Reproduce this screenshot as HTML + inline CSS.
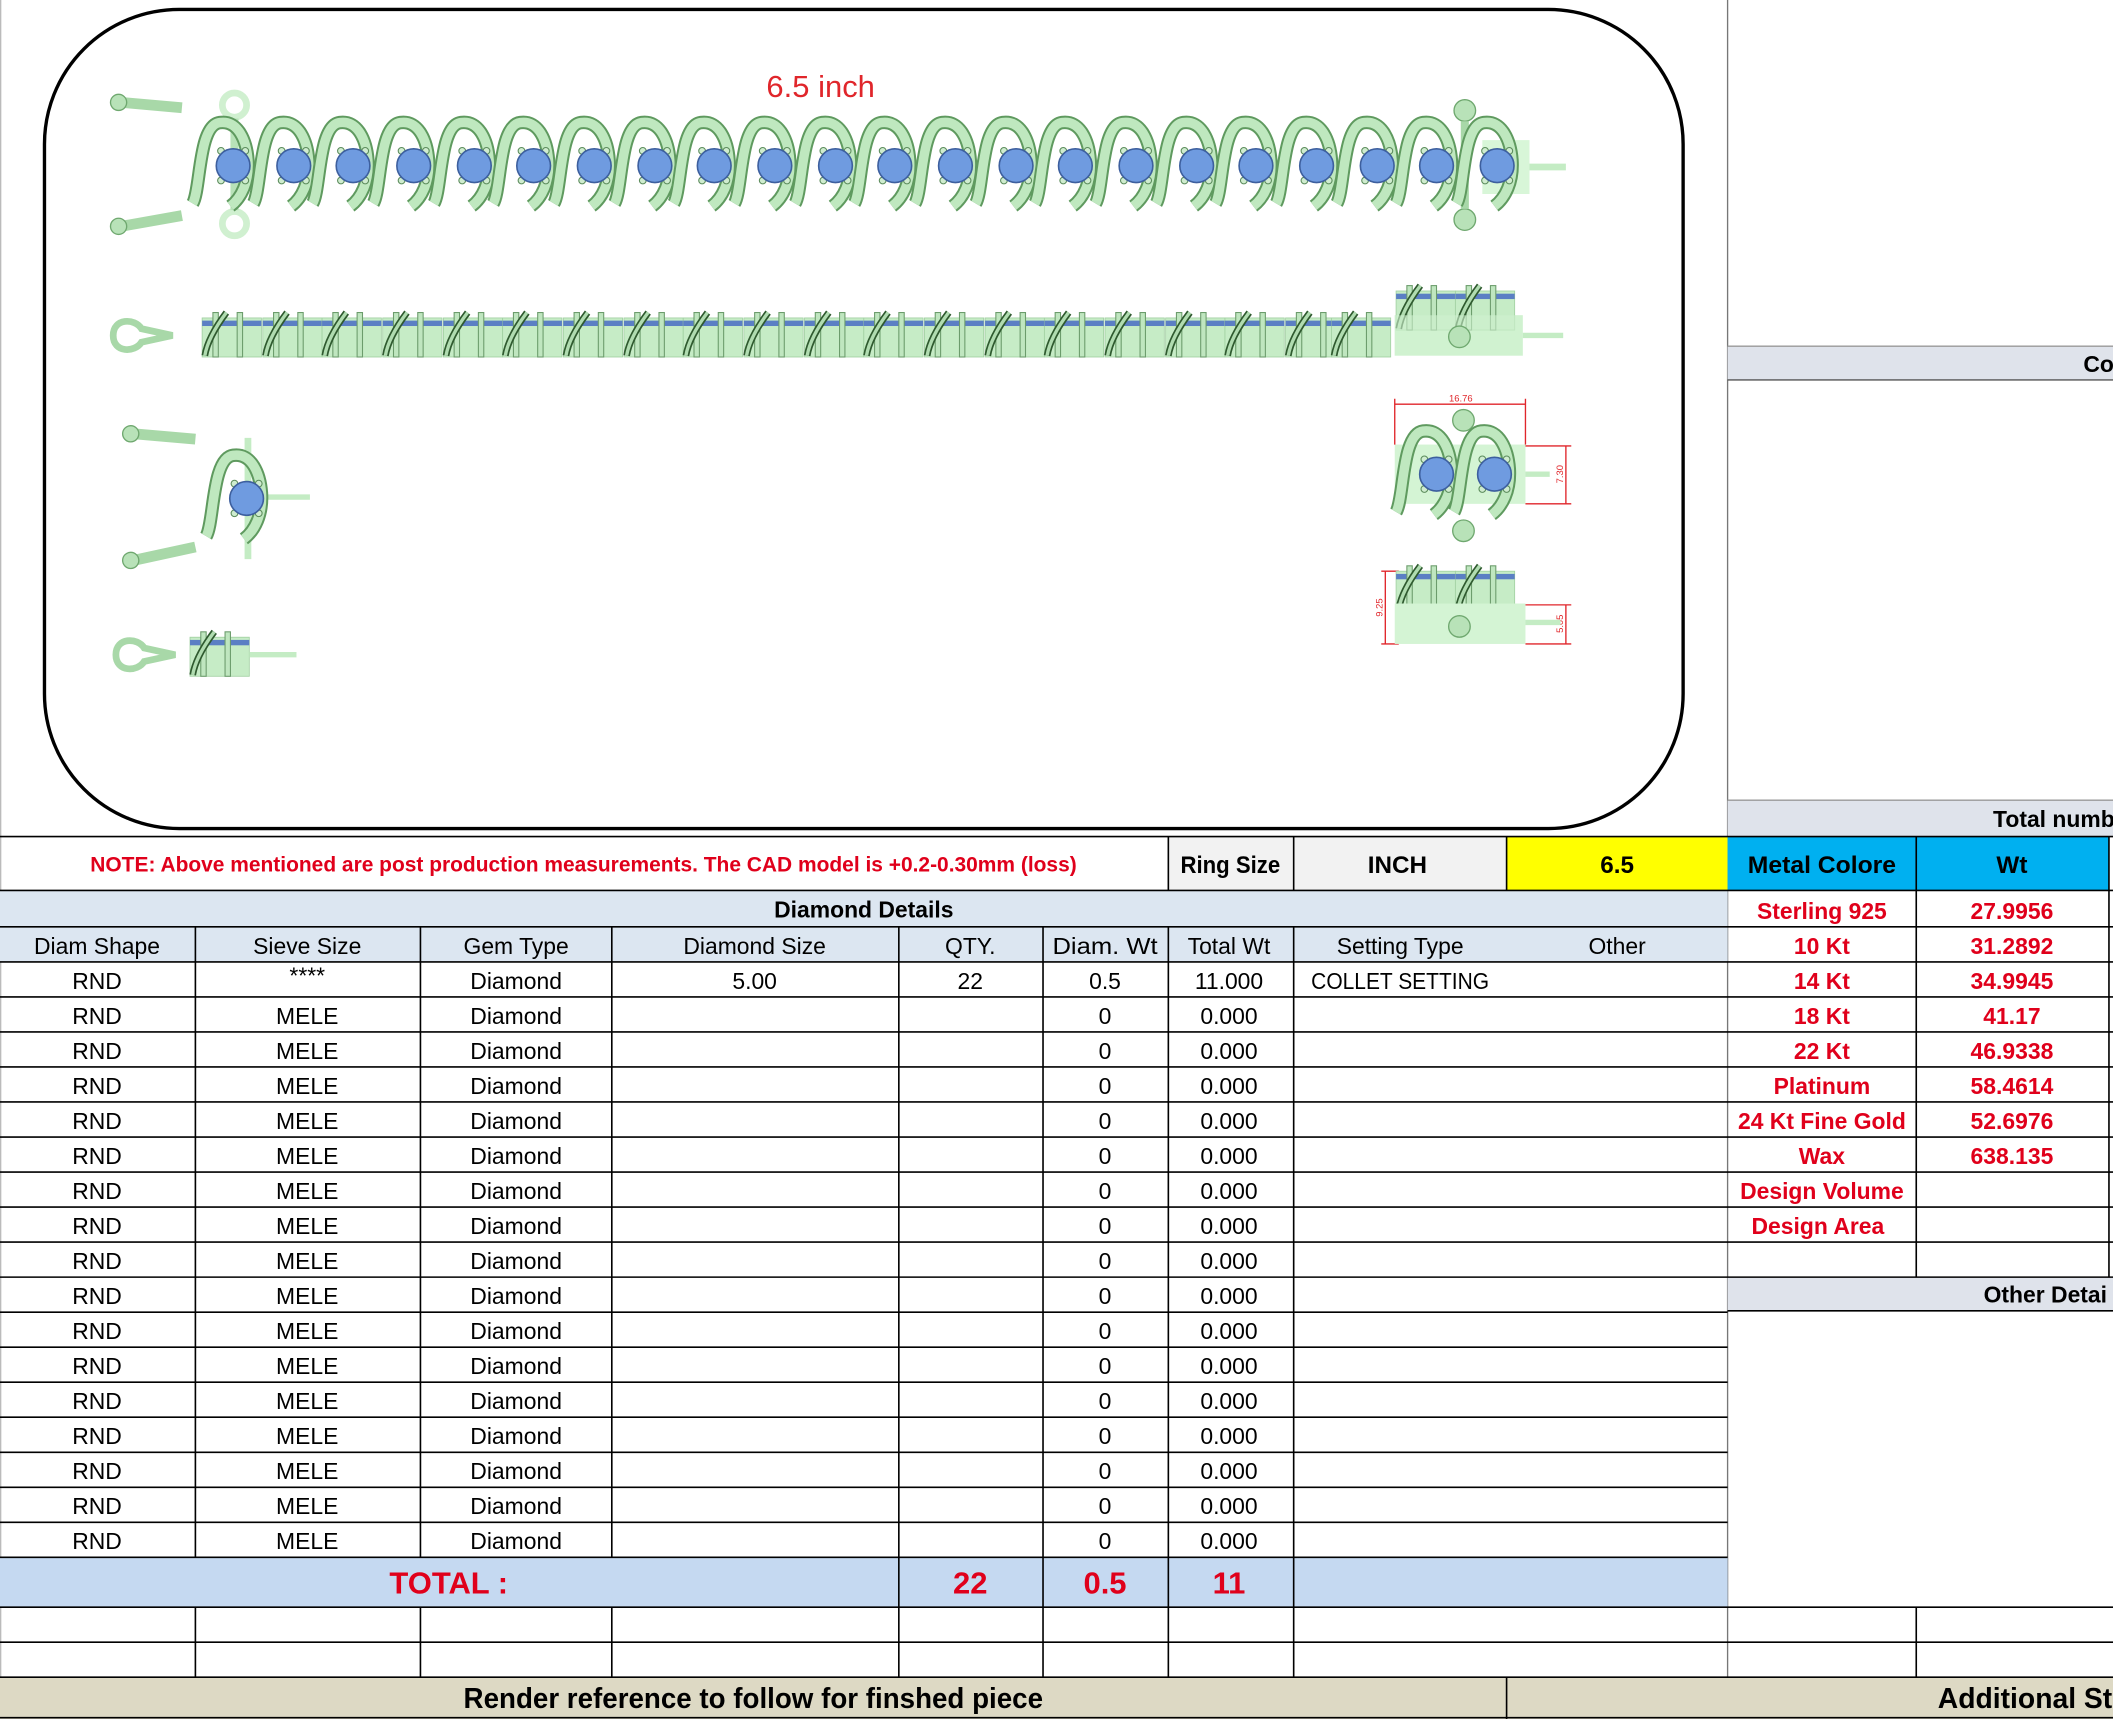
<!DOCTYPE html>
<html><head><meta charset="utf-8"><style>
html,body{margin:0;padding:0;background:#fff;}
svg{display:block;}
text{font-family:"Liberation Sans",sans-serif;}
</style></head><body>
<svg width="2113" height="1719" viewBox="0 0 1568 1276" preserveAspectRatio="none" xmlns="http://www.w3.org/2000/svg">
<defs>
<g id="lk">
<path d="M-30,28 C-24,18 -26,-30 -10,-32 C4,-34 10,-18 11,-4 C12,12 6,24 -2,30" fill="none" stroke="#5f9a5f" stroke-width="10"/>
<path d="M-30,28 C-24,18 -26,-30 -10,-32 C4,-34 10,-18 11,-4 C12,12 6,24 -2,30" fill="none" stroke="#bfe8bf" stroke-width="7"/>
<circle cx="-9" cy="-11" r="2.5" fill="#cfeccf" stroke="#5c8c5c" stroke-width="0.8"/>
<circle cx="9" cy="-11" r="2.5" fill="#cfeccf" stroke="#5c8c5c" stroke-width="0.8"/>
<circle cx="-9" cy="11" r="2.5" fill="#cfeccf" stroke="#5c8c5c" stroke-width="0.8"/>
<circle cx="9" cy="11" r="2.5" fill="#cfeccf" stroke="#5c8c5c" stroke-width="0.8"/>
<circle cx="0" cy="0" r="12.5" fill="#6f9be0" stroke="#3d5f9e" stroke-width="1.2"/>
</g>
<g id="sd">
<rect x="-22" y="-12" width="44" height="29" fill="#c6ecc6" stroke="#a0cfa0" stroke-width="0.6"/>
<rect x="-22" y="-10" width="44" height="4" fill="#5b7fc4"/>
<rect x="-14" y="-16" width="4" height="33" fill="#bfe6bf" stroke="#6c9c6c" stroke-width="0.8"/>
<rect x="4" y="-16" width="4" height="33" fill="#bfe6bf" stroke="#6c9c6c" stroke-width="0.8"/>
<path d="M-20,16 C-18,4 -10,-8 -4,-16" stroke="#2f5a2f" stroke-width="5" fill="none"/>
<path d="M-20,16 C-18,4 -10,-8 -4,-16" stroke="#b0dcb0" stroke-width="2.5" fill="none"/>
</g>
</defs>
<rect width="1568" height="1276" fill="#fff"/>
<line x1="0.5" y1="0" x2="0.5" y2="1276" stroke="#bbb"/>
<rect x="33" y="7" width="1216" height="608" rx="100" ry="100" fill="#fff" stroke="#000" stroke-width="2.5"/>
<text x="609" y="72" font-size="23" fill="#e0262b" text-anchor="middle">6.5 inch</text>
<!-- row1 -->
<line x1="1130" y1="124" x2="1162" y2="124" stroke="#c4ecc4" stroke-width="5"/>
<rect x="1100" y="104" width="35" height="40" fill="#d8f6d8"/>
<path d="M90,76 L135,80 M90,168 L135,160" stroke="#a8d8a8" stroke-width="8" fill="none"/>
<circle cx="88" cy="76" r="6" fill="#b8e2b8" stroke="#6fa86f"/><circle cx="88" cy="168" r="6" fill="#b8e2b8" stroke="#6fa86f"/>
<circle cx="174" cy="78" r="9" fill="none" stroke="#d0f0d0" stroke-width="5"/><circle cx="174" cy="166" r="9" fill="none" stroke="#d0f0d0" stroke-width="5"/>
<line x1="174" y1="88" x2="174" y2="156" stroke="#b8e2b8" stroke-width="6"/>
<circle cx="1087" cy="82" r="8" fill="#b8e2b8" stroke="#6fa86f"/><circle cx="1087" cy="163" r="8" fill="#b8e2b8" stroke="#6fa86f"/>
<line x1="1087" y1="90" x2="1087" y2="155" stroke="#a8d8a8" stroke-width="6"/>
<use href="#lk" x="173" y="123"/><use href="#lk" x="218" y="123"/><use href="#lk" x="262" y="123"/><use href="#lk" x="307" y="123"/><use href="#lk" x="352" y="123"/><use href="#lk" x="396" y="123"/><use href="#lk" x="441" y="123"/><use href="#lk" x="486" y="123"/><use href="#lk" x="530" y="123"/><use href="#lk" x="575" y="123"/><use href="#lk" x="620" y="123"/><use href="#lk" x="664" y="123"/><use href="#lk" x="709" y="123"/><use href="#lk" x="754" y="123"/><use href="#lk" x="798" y="123"/><use href="#lk" x="843" y="123"/><use href="#lk" x="888" y="123"/><use href="#lk" x="932" y="123"/><use href="#lk" x="977" y="123"/><use href="#lk" x="1022" y="123"/><use href="#lk" x="1066" y="123"/><use href="#lk" x="1111" y="123"/>
<!-- row2 -->
<rect x="1035" y="234" width="95" height="30" fill="#d0f2d0"/>
<line x1="1130" y1="249" x2="1160" y2="249" stroke="#c4ecc4" stroke-width="4"/>
<path d="M84,249 C84,236 100,236 105,244 L128,249 L105,254 C100,262 84,262 84,249 Z" fill="none" stroke="#a8d8a8" stroke-width="5"/>
<use href="#sd" x="172" y="248"/><use href="#sd" x="217" y="248"/><use href="#sd" x="261" y="248"/><use href="#sd" x="306" y="248"/><use href="#sd" x="351" y="248"/><use href="#sd" x="395" y="248"/><use href="#sd" x="440" y="248"/><use href="#sd" x="485" y="248"/><use href="#sd" x="529" y="248"/><use href="#sd" x="574" y="248"/><use href="#sd" x="619" y="248"/><use href="#sd" x="663" y="248"/><use href="#sd" x="708" y="248"/><use href="#sd" x="753" y="248"/><use href="#sd" x="797" y="248"/><use href="#sd" x="842" y="248"/><use href="#sd" x="887" y="248"/><use href="#sd" x="931" y="248"/><use href="#sd" x="976" y="248"/><use href="#sd" x="1010" y="248"/>
<use href="#sd" x="1058" y="228"/><use href="#sd" x="1102" y="228"/>
<rect x="1035" y="234" width="95" height="30" fill="#d0f2d0" opacity="0.6"/>
<circle cx="1083" cy="250" r="8" fill="#b8e2b8" stroke="#6fa86f"/>
<!-- single link -->
<path d="M99,322 L145,326 M99,416 L145,406" stroke="#a8d8a8" stroke-width="8" fill="none"/>
<circle cx="97" cy="322" r="6" fill="#b8e2b8" stroke="#6fa86f"/><circle cx="97" cy="416" r="6" fill="#b8e2b8" stroke="#6fa86f"/>
<line x1="184" y1="325" x2="184" y2="415" stroke="#c4ecc4" stroke-width="5"/>
<line x1="195" y1="369" x2="230" y2="369" stroke="#c4ecc4" stroke-width="4"/>
<use href="#lk" x="183" y="370"/>
<!-- clasp -->
<path d="M86,486 C86,473 102,473 107,481 L130,486 L107,491 C102,499 86,499 86,486 Z" fill="none" stroke="#a8d8a8" stroke-width="5"/>
<use href="#sd" x="163" y="485"/>
<line x1="185" y1="486" x2="220" y2="486" stroke="#c4ecc4" stroke-width="4"/>
<!-- detail views -->
<rect x="1035" y="330" width="97" height="44" fill="#d4f4d4"/>
<line x1="1132" y1="352" x2="1150" y2="352" stroke="#c4ecc4" stroke-width="4"/>
<circle cx="1086" cy="312" r="8" fill="#b8e2b8" stroke="#6fa86f"/><circle cx="1086" cy="394" r="8" fill="#b8e2b8" stroke="#6fa86f"/>
<use href="#lk" x="1066" y="352"/><use href="#lk" x="1109" y="352"/>
<g stroke="#e0262b" stroke-width="1" fill="none"><path d="M1035,300 H1132 M1035,296 V330 M1132,296 V330 M1132,331 H1166 M1132,374 H1166 M1162,331 V374 M1132,478 H1166 M1132,449 H1166 M1162,449 V478 M1025,424 H1038 M1025,478 H1038 M1028,424 V478"/></g>
<text x="1084" y="298" font-size="7" fill="#e0262b" text-anchor="middle">16.76</text>
<text x="1160" y="352" font-size="7" fill="#e0262b" text-anchor="middle" transform="rotate(-90 1160 352)">7.30</text>
<text x="1026" y="451" font-size="7" fill="#e0262b" text-anchor="middle" transform="rotate(-90 1026 451)">9.25</text>
<text x="1160" y="463" font-size="7" fill="#e0262b" text-anchor="middle" transform="rotate(-90 1160 463)">5.05</text>
<use href="#sd" x="1058" y="436"/><use href="#sd" x="1102" y="436"/>
<rect x="1035" y="448" width="97" height="30" fill="#d4f4d4"/>
<circle cx="1083" cy="465" r="8" fill="#b8e2b8" stroke="#6fa86f"/>
<line x1="1132" y1="462" x2="1158" y2="462" stroke="#c4ecc4" stroke-width="4"/>

<!-- right panel -->
<line x1="1282" y1="0" x2="1282" y2="1276" stroke="#777" stroke-width="1"/>
<rect x="1282" y="257" width="286" height="25" fill="#dfe3eb"/>
<line x1="1282" y1="257" x2="1568" y2="257" stroke="#999"/><line x1="1282" y1="282" x2="1568" y2="282" stroke="#555"/>
<text x="1546" y="276" font-size="17" font-weight="bold">Co</text>
<rect x="1282" y="594" width="286" height="27" fill="#dfe3eb"/>
<line x1="1282" y1="594" x2="1568" y2="594" stroke="#999"/>
<text x="1479" y="614" font-size="17" font-weight="bold">Total numb</text>

<!-- note row -->
<rect x="867" y="621" width="251" height="40" fill="#f2f2f2"/>
<rect x="1118" y="621" width="164" height="40" fill="#ffff00"/>
<rect x="1282" y="621" width="283" height="40" fill="#00b0f0"/>
<text x="433" y="647" font-size="16" font-weight="bold" fill="#e0001b" text-anchor="middle" textLength="732" lengthAdjust="spacingAndGlyphs">NOTE: Above mentioned are post production measurements. The CAD model is +0.2-0.30mm (loss)</text>
<text x="913" y="648" font-size="18" font-weight="bold" text-anchor="middle" textLength="74" lengthAdjust="spacingAndGlyphs">Ring Size</text>
<text x="1037" y="648" font-size="18" font-weight="bold" text-anchor="middle">INCH</text>
<text x="1200" y="648" font-size="18" font-weight="bold" text-anchor="middle">6.5</text>
<text x="1352" y="648" font-size="18" font-weight="bold" text-anchor="middle" textLength="110" lengthAdjust="spacingAndGlyphs">Metal Colore</text>
<text x="1493" y="648" font-size="18" font-weight="bold" text-anchor="middle">Wt</text>

<rect x="0" y="661" width="1282" height="53" fill="#dce6f1"/>
<text x="641" y="681" font-size="17" font-weight="bold" text-anchor="middle">Diamond Details</text>
<g font-size="17" text-anchor="middle">
<text x="72" y="708">Diam Shape</text><text x="228" y="708">Sieve Size</text><text x="383" y="708">Gem Type</text><text x="560" y="708">Diamond Size</text><text x="720" y="708">QTY.</text><text x="820" y="708" textLength="78" lengthAdjust="spacingAndGlyphs">Diam. Wt</text><text x="912" y="708">Total Wt</text><text x="1039" y="708">Setting Type</text><text x="1200" y="708">Other</text>
</g>

<rect x="0" y="1156" width="1282" height="37" fill="#c5d9f1"/>
<rect x="0" y="1245" width="1568" height="31" fill="#ddd9c4"/>
<rect x="1282" y="948" width="286" height="25" fill="#dfe3eb"/>
<text x="1472" y="967" font-size="17" font-weight="bold">Other Detai</text>

<g stroke="#000" stroke-width="1.2">
<line x1="0" y1="621" x2="1568" y2="621"/>
<line x1="0" y1="661" x2="1568" y2="661"/>
<line x1="0" y1="688" x2="1568" y2="688"/>
<line x1="0" y1="714" x2="1568" y2="714"/>
<line x1="0" y1="740" x2="1568" y2="740"/><line x1="0" y1="766" x2="1568" y2="766"/><line x1="0" y1="792" x2="1568" y2="792"/><line x1="0" y1="818" x2="1568" y2="818"/><line x1="0" y1="844" x2="1568" y2="844"/><line x1="0" y1="870" x2="1568" y2="870"/><line x1="0" y1="896" x2="1568" y2="896"/><line x1="0" y1="922" x2="1568" y2="922"/><line x1="0" y1="948" x2="1568" y2="948"/>
<line x1="0" y1="974" x2="1282" y2="974"/><line x1="0" y1="1000" x2="1282" y2="1000"/><line x1="0" y1="1026" x2="1282" y2="1026"/><line x1="0" y1="1052" x2="1282" y2="1052"/><line x1="0" y1="1078" x2="1282" y2="1078"/><line x1="0" y1="1104" x2="1282" y2="1104"/><line x1="0" y1="1130" x2="1282" y2="1130"/><line x1="0" y1="1156" x2="1282" y2="1156"/>
<line x1="0" y1="1193" x2="1568" y2="1193"/><line x1="0" y1="1219" x2="1568" y2="1219"/><line x1="0" y1="1245" x2="1568" y2="1245"/>
<line x1="1282" y1="973" x2="1568" y2="973"/>
<line x1="867" y1="621" x2="867" y2="661"/><line x1="960" y1="621" x2="960" y2="661"/><line x1="1118" y1="621" x2="1118" y2="661"/><line x1="1422" y1="621" x2="1422" y2="948"/><line x1="1565" y1="621" x2="1565" y2="948"/>
<line x1="145" y1="688" x2="145" y2="1156"/><line x1="312" y1="688" x2="312" y2="1156"/><line x1="454" y1="688" x2="454" y2="1156"/>
<line x1="667" y1="688" x2="667" y2="1193"/><line x1="774" y1="688" x2="774" y2="1193"/><line x1="867" y1="688" x2="867" y2="1193"/><line x1="960" y1="688" x2="960" y2="1193"/>
<line x1="145" y1="1193" x2="145" y2="1245"/><line x1="312" y1="1193" x2="312" y2="1245"/><line x1="454" y1="1193" x2="454" y2="1245"/><line x1="667" y1="1193" x2="667" y2="1245"/><line x1="774" y1="1193" x2="774" y2="1245"/><line x1="867" y1="1193" x2="867" y2="1245"/><line x1="960" y1="1193" x2="960" y2="1245"/><line x1="1422" y1="1193" x2="1422" y2="1245"/>
<line x1="1118" y1="1245" x2="1118" y2="1276"/>
<line x1="0" y1="1275" x2="1568" y2="1275"/>
</g>

<g font-size="17" font-weight="bold" fill="#e0001b" text-anchor="middle">
<text x="1352" y="682">Sterling 925</text><text x="1493" y="682">27.9956</text>
<text x="1352" y="708">10 Kt</text><text x="1493" y="708">31.2892</text>
<text x="1352" y="734">14 Kt</text><text x="1493" y="734">34.9945</text>
<text x="1352" y="760">18 Kt</text><text x="1493" y="760">41.17</text>
<text x="1352" y="786">22 Kt</text><text x="1493" y="786">46.9338</text>
<text x="1352" y="812">Platinum</text><text x="1493" y="812">58.4614</text>
<text x="1352" y="838">24 Kt Fine Gold</text><text x="1493" y="838">52.6976</text>
<text x="1352" y="864">Wax</text><text x="1493" y="864">638.135</text>
<text x="1352" y="890">Design Volume</text>
<text x="1349" y="916">Design Area</text>
</g>

<g font-size="17" text-anchor="middle">
<text x="72" y="734">RND</text><text x="228" y="730">****</text><text x="383" y="734">Diamond</text><text x="560" y="734">5.00</text><text x="720" y="734">22</text><text x="820" y="734">0.5</text><text x="912" y="734">11.000</text><text x="1039" y="734" textLength="132" lengthAdjust="spacingAndGlyphs">COLLET SETTING</text>
<text x="72" y="760">RND</text><text x="228" y="760">MELE</text><text x="383" y="760">Diamond</text><text x="820" y="760">0</text><text x="912" y="760">0.000</text>
<text x="72" y="786">RND</text><text x="228" y="786">MELE</text><text x="383" y="786">Diamond</text><text x="820" y="786">0</text><text x="912" y="786">0.000</text>
<text x="72" y="812">RND</text><text x="228" y="812">MELE</text><text x="383" y="812">Diamond</text><text x="820" y="812">0</text><text x="912" y="812">0.000</text>
<text x="72" y="838">RND</text><text x="228" y="838">MELE</text><text x="383" y="838">Diamond</text><text x="820" y="838">0</text><text x="912" y="838">0.000</text>
<text x="72" y="864">RND</text><text x="228" y="864">MELE</text><text x="383" y="864">Diamond</text><text x="820" y="864">0</text><text x="912" y="864">0.000</text>
<text x="72" y="890">RND</text><text x="228" y="890">MELE</text><text x="383" y="890">Diamond</text><text x="820" y="890">0</text><text x="912" y="890">0.000</text>
<text x="72" y="916">RND</text><text x="228" y="916">MELE</text><text x="383" y="916">Diamond</text><text x="820" y="916">0</text><text x="912" y="916">0.000</text>
<text x="72" y="942">RND</text><text x="228" y="942">MELE</text><text x="383" y="942">Diamond</text><text x="820" y="942">0</text><text x="912" y="942">0.000</text>
<text x="72" y="968">RND</text><text x="228" y="968">MELE</text><text x="383" y="968">Diamond</text><text x="820" y="968">0</text><text x="912" y="968">0.000</text>
<text x="72" y="994">RND</text><text x="228" y="994">MELE</text><text x="383" y="994">Diamond</text><text x="820" y="994">0</text><text x="912" y="994">0.000</text>
<text x="72" y="1020">RND</text><text x="228" y="1020">MELE</text><text x="383" y="1020">Diamond</text><text x="820" y="1020">0</text><text x="912" y="1020">0.000</text>
<text x="72" y="1046">RND</text><text x="228" y="1046">MELE</text><text x="383" y="1046">Diamond</text><text x="820" y="1046">0</text><text x="912" y="1046">0.000</text>
<text x="72" y="1072">RND</text><text x="228" y="1072">MELE</text><text x="383" y="1072">Diamond</text><text x="820" y="1072">0</text><text x="912" y="1072">0.000</text>
<text x="72" y="1098">RND</text><text x="228" y="1098">MELE</text><text x="383" y="1098">Diamond</text><text x="820" y="1098">0</text><text x="912" y="1098">0.000</text>
<text x="72" y="1124">RND</text><text x="228" y="1124">MELE</text><text x="383" y="1124">Diamond</text><text x="820" y="1124">0</text><text x="912" y="1124">0.000</text>
<text x="72" y="1150">RND</text><text x="228" y="1150">MELE</text><text x="383" y="1150">Diamond</text><text x="820" y="1150">0</text><text x="912" y="1150">0.000</text>
</g>

<g font-size="23" font-weight="bold" fill="#e0001b" text-anchor="middle">
<text x="333" y="1183">TOTAL :</text><text x="720" y="1183">22</text><text x="820" y="1183">0.5</text><text x="912" y="1183">11</text>
</g>
<text x="559" y="1268" font-size="21" font-weight="bold" text-anchor="middle" textLength="430" lengthAdjust="spacingAndGlyphs">Render reference to follow for finshed piece</text>
<text x="1438" y="1268" font-size="21" font-weight="bold">Additional St</text>
</svg>
</body></html>
